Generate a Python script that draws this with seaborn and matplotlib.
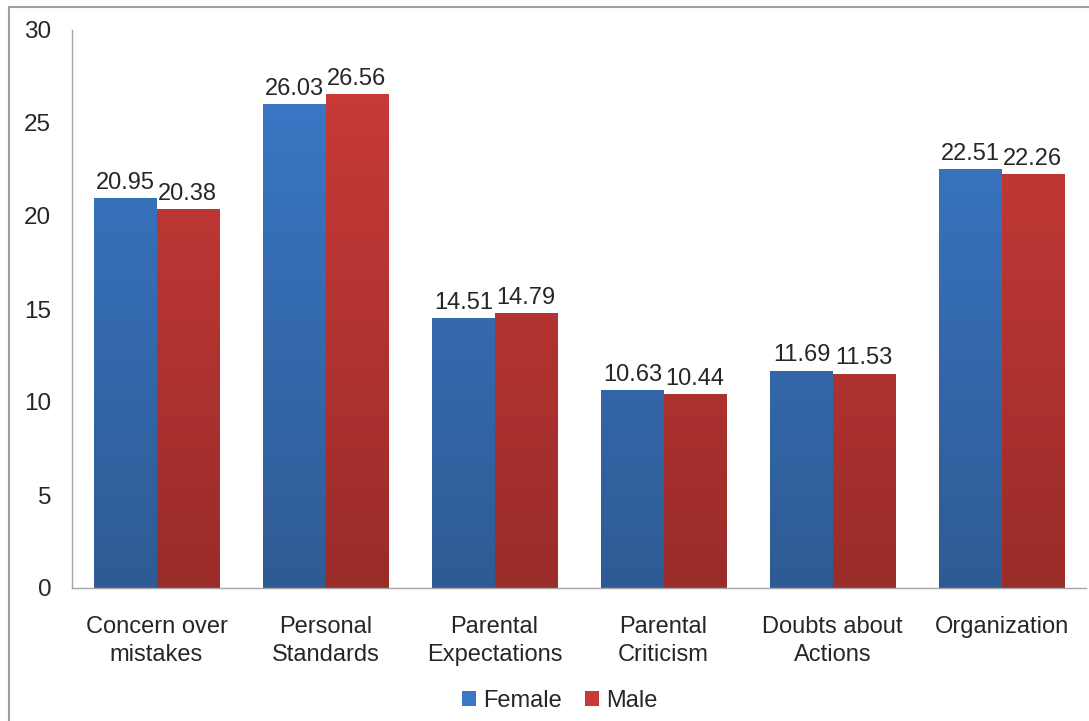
import numpy as np
import pandas as pd
import matplotlib
matplotlib.use("Agg")
import matplotlib.pyplot as plt
import seaborn as sns
from matplotlib.colors import LinearSegmentedColormap
from matplotlib.patches import Rectangle
from matplotlib.lines import Line2D

categories = ["Concern over\nmistakes", "Personal\nStandards", "Parental\nExpectations",
              "Parental\nCriticism", "Doubts about\nActions", "Organization"]
female = [20.95, 26.03, 14.51, 10.63, 11.69, 22.51]
male = [20.38, 26.56, 14.79, 10.44, 11.53, 22.26]
series = ["Female", "Male"]
yticks = [0, 5, 10, 15, 20, 25, 30]

df = pd.DataFrame({
    "category": categories * 2,
    "value": female + male,
    "sex": ["Female"] * len(categories) + ["Male"] * len(categories),
})

sns.set_style("white")
plt.rcParams['font.family'] = ['Liberation Sans', 'DejaVu Sans']

fig = plt.figure(figsize=(10.89, 7.21), dpi=100)
ax = fig.add_axes([72 / 1089, 1 - 588 / 721, (1086 - 72) / 1089, (588 - 30) / 721])

palette = {"Female": "#3a78c6", "Male": "#c93b38"}
sns.barplot(data=df, x="category", y="value", hue="sex", palette=palette,
            width=0.734, ax=ax, saturation=1, legend=True, edgecolor="none")

grads = {
    "Female": LinearSegmentedColormap.from_list("f", ["#2e5b94", "#3b7acb"]),
    "Male": LinearSegmentedColormap.from_list("m", ["#9a2c2a", "#cd3c39"]),
}
grad_img = np.linspace(0, 1, 256).reshape(-1, 1)

for container, name in zip(ax.containers, series):
    for bar in container:
        x0, y0 = bar.get_x(), bar.get_y()
        w, h = bar.get_width(), bar.get_height()
        im = ax.imshow(grad_img, cmap=grads[name], origin="lower", aspect="auto",
                       extent=[x0, x0 + w, 0, 30], zorder=bar.get_zorder() + 0.1)
        clip = Rectangle((x0, y0), w, h, transform=ax.transData)
        im.set_clip_path(clip)
    ax.bar_label(container, fmt="%.2f", padding=3, fontsize=17)

ax.set_xlim(-0.5, len(categories) - 0.5)
ax.set_ylim(0, 30)
ax.set_yticks(yticks)
ax.tick_params(axis="y", labelsize=17.5, pad=15, length=0)
ax.tick_params(axis="x", labelsize=17, pad=20, length=0)
for lbl in ax.get_xticklabels():
    lbl.set_linespacing(1.35)
ax.set_xlabel("")
ax.set_ylabel("")
for s in ["top", "right"]:
    ax.spines[s].set_visible(False)
for s in ["left", "bottom"]:
    ax.spines[s].set_color("#a6a6a6")
    ax.spines[s].set_linewidth(1.0)

ax.legend(loc="center", bbox_to_anchor=(0.481, -0.202), ncol=2, frameon=False,
          fontsize=17, handlelength=0.6, handleheight=0.6, handletextpad=0.3,
          columnspacing=1.0)

fig.add_artist(Line2D([9 / 1089, 1], [1 - 7 / 721, 1 - 7 / 721], transform=fig.transFigure,
                      color="#a0a0a0", linewidth=1.5))
fig.add_artist(Line2D([9 / 1089, 9 / 1089], [0, 1 - 7 / 721], transform=fig.transFigure,
                      color="#a0a0a0", linewidth=1.5))

fig.savefig("out.png", dpi=100)
